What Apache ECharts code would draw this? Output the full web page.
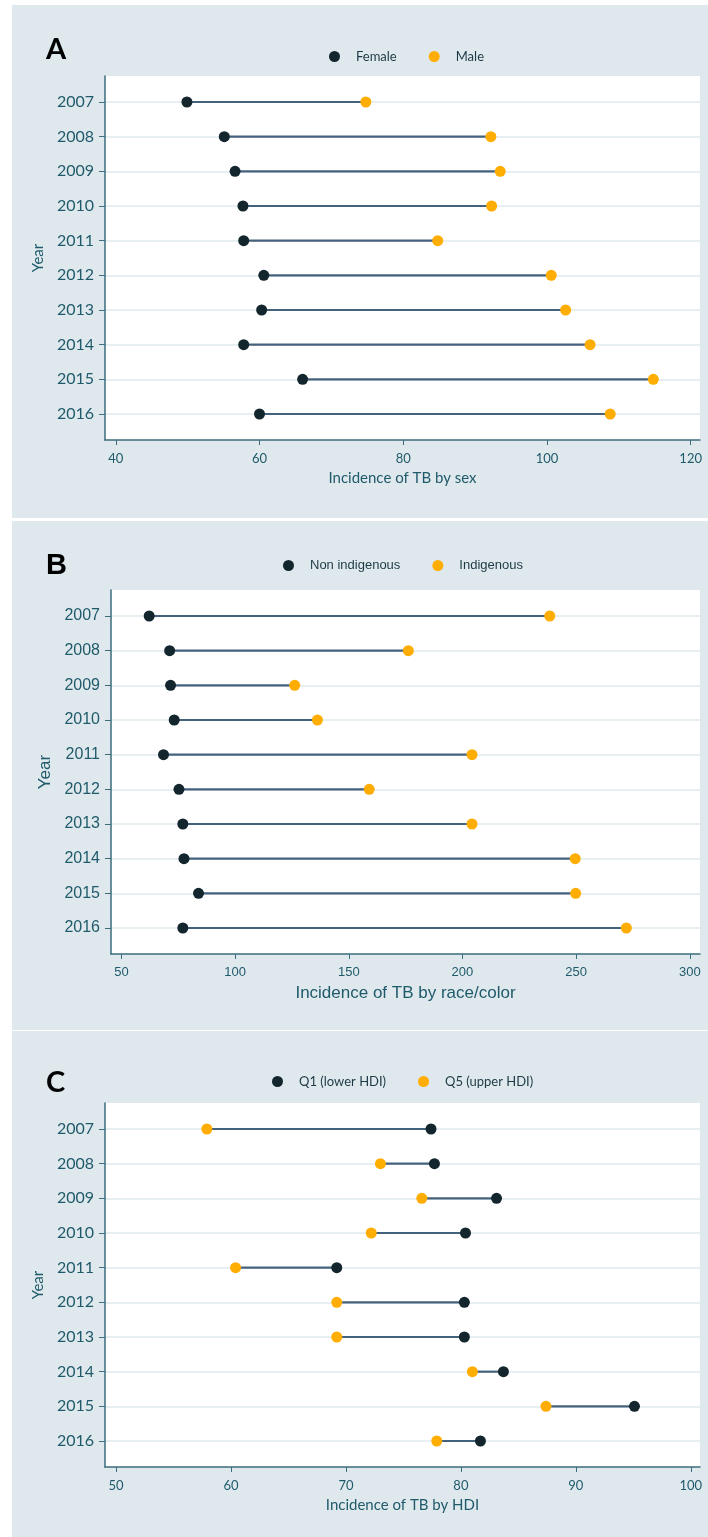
<!DOCTYPE html>
<html>
<head>
<meta charset="utf-8">
<title>Incidence of TB</title>
<script src="https://cdn.jsdelivr.net/npm/echarts@6/dist/echarts.min.js"></script>
<style>
  html, body { margin: 0; padding: 0; background: #fff; }
  #chart { width: 708px; height: 1537px; }
</style>
</head>
<body>
<div id="chart"></div>
<script>
// data
const years = [2007, 2008, 2009, 2010, 2011, 2012, 2013, 2014, 2015, 2016];

const female = [49.9, 55.1, 56.6, 57.7, 57.8, 60.6, 60.3, 57.8, 66.0, 60.0];
const male = [74.8, 92.2, 93.5, 92.3, 84.8, 100.6, 102.6, 106.0, 114.8, 108.8];

const nonIndigenous = [62.2, 71.2, 71.6, 73.2, 68.5, 75.3, 77.0, 77.5, 83.9, 77.0];
const indigenous = [238.4, 176.2, 126.2, 136.2, 204.2, 159.0, 204.2, 249.6, 249.8, 272.1];

const q1Lower = [77.4, 77.7, 83.1, 80.4, 69.2, 80.3, 80.3, 83.7, 95.1, 81.7];
const q5Upper = [57.9, 73.0, 76.6, 72.2, 60.4, 69.2, 69.2, 81.0, 87.4, 77.9];

const ticksA = [40, 60, 80, 100, 120];
const ticksB = [50, 100, 150, 200, 250, 300];
const ticksC = [50, 60, 70, 80, 90, 100];

const DARK = '#13262d';
const ORANGE = '#ffad00';
const TEAL = '#1f5a6b';
const AXIS = '#3b6d7c';
const PANEL = '#dfe8ed';

const panels = [
  { letter: 'A', top: 76, left: 105, xmin: 38.5, xmax: 121.3, ticks: ticksA,
    a: ['Female', female], b: ['Male', male], title: 'Incidence of TB by sex',
    font: 'Lato', yFont: 16, xFont: 13, nameFont: 15, legendLeft: 324, legendTop: 45,
    panelY: 5, panelH: 513, letterTop: 30 },
  { letter: 'B', top: 590, left: 111, xmin: 45.4, xmax: 304.5, ticks: ticksB,
    a: ['Non indigenous', nonIndigenous], b: ['Indigenous', indigenous],
    title: 'Incidence of TB by race/color',
    font: 'Liberation Sans', yFont: 16, xFont: 13, nameFont: 17, legendLeft: 278, legendTop: 554,
    panelY: 521, panelH: 509, letterTop: 546 },
  { letter: 'C', top: 1103, left: 105, xmin: 49.04, xmax: 100.8, ticks: ticksC,
    a: ['Q1 (lower HDI)', q1Lower], b: ['Q5 (upper HDI)', q5Upper],
    title: 'Incidence of TB by HDI',
    font: 'Lato', yFont: 16, xFont: 13, nameFont: 15, legendLeft: 267, legendTop: 1070,
    panelY: 1031, panelH: 506, letterTop: 1063 }
];

const option = {
  animation: false,
  backgroundColor: '#fff',
  title: [], legend: [], grid: [], xAxis: [], yAxis: [], series: [],
  graphic: []
};

panels.forEach((p, i) => {
  option.graphic.push({
    type: 'rect', z: -10, silent: true,
    shape: { x: 12, y: p.panelY, width: 696, height: p.panelH },
    style: { fill: PANEL }
  });
  option.title.push({
    text: p.letter, left: 41, top: p.letterTop,
    textStyle: { fontFamily: p.font, fontWeight: 'bold', fontSize: 29, color: '#000' }
  });
  option.legend.push({
    data: [p.a[0], p.b[0]], left: p.legendLeft, top: p.legendTop,
    icon: 'circle', itemWidth: 11, itemHeight: 11, itemGap: 32,
    textStyle: { fontFamily: p.font, fontSize: 13, color: '#1d3a44', padding: [0, 0, 0, 11] }
  });
  option.grid.push({
    left: p.left, right: 8, top: p.top, height: 364,
    show: true, backgroundColor: '#fff', borderWidth: 0
  });
  option.xAxis.push({
    type: 'value', gridIndex: i, min: p.xmin, max: p.xmax,
    name: p.title, nameLocation: 'middle', nameGap: 31,
    nameTextStyle: { fontFamily: p.font, fontSize: p.nameFont, color: TEAL },
    axisLine: { show: true, lineStyle: { color: AXIS, width: 1.5 } },
    axisTick: { show: true, length: 5, customValues: p.ticks, lineStyle: { color: AXIS } },
    axisLabel: { customValues: p.ticks, margin: 12, fontFamily: p.font, fontSize: p.xFont, color: TEAL },
    splitLine: { show: false }
  });
  option.yAxis.push({
    type: 'value', gridIndex: i, inverse: true, min: 2006.25, max: 2016.75,
    name: 'Year', nameLocation: 'middle', nameGap: 56,
    nameTextStyle: { fontFamily: p.font, fontSize: p.nameFont, color: TEAL },
    axisLine: { show: true, lineStyle: { color: AXIS, width: 1.5 } },
    axisTick: { show: true, length: 6, customValues: years, lineStyle: { color: AXIS } },
    axisLabel: { customValues: years, margin: 11, fontFamily: p.font, fontSize: p.yFont, color: TEAL,
      formatter: v => String(v) },
    splitLine: { show: true, lineStyle: { color: '#e1eaee', width: 1.5 } }
  });
  // connecting line between the two values of each year
  option.series.push({
    type: 'custom', xAxisIndex: i, yAxisIndex: i, silent: true,
    data: years.map((y, k) => [p.a[1][k], p.b[1][k], y]),
    encode: { x: [0, 1], y: 2 },
    renderItem: (params, api) => {
      const s = api.coord([api.value(0), api.value(2)]);
      const e = api.coord([api.value(1), api.value(2)]);
      return {
        type: 'line',
        shape: { x1: s[0], y1: s[1], x2: e[0], y2: e[1] },
        style: { stroke: '#45627c', lineWidth: 2.2 }
      };
    }
  });
  option.series.push({
    name: p.a[0], type: 'scatter', xAxisIndex: i, yAxisIndex: i,
    symbol: 'circle', symbolSize: 11, itemStyle: { color: DARK, opacity: 1 },
    data: years.map((y, k) => [p.a[1][k], y])
  });
  option.series.push({
    name: p.b[0], type: 'scatter', xAxisIndex: i, yAxisIndex: i,
    symbol: 'circle', symbolSize: 11, itemStyle: { color: ORANGE, opacity: 1 },
    data: years.map((y, k) => [p.b[1][k], y])
  });
});

const chart = echarts.init(document.getElementById('chart'));
chart.setOption(option);
</script>
</body>
</html>
